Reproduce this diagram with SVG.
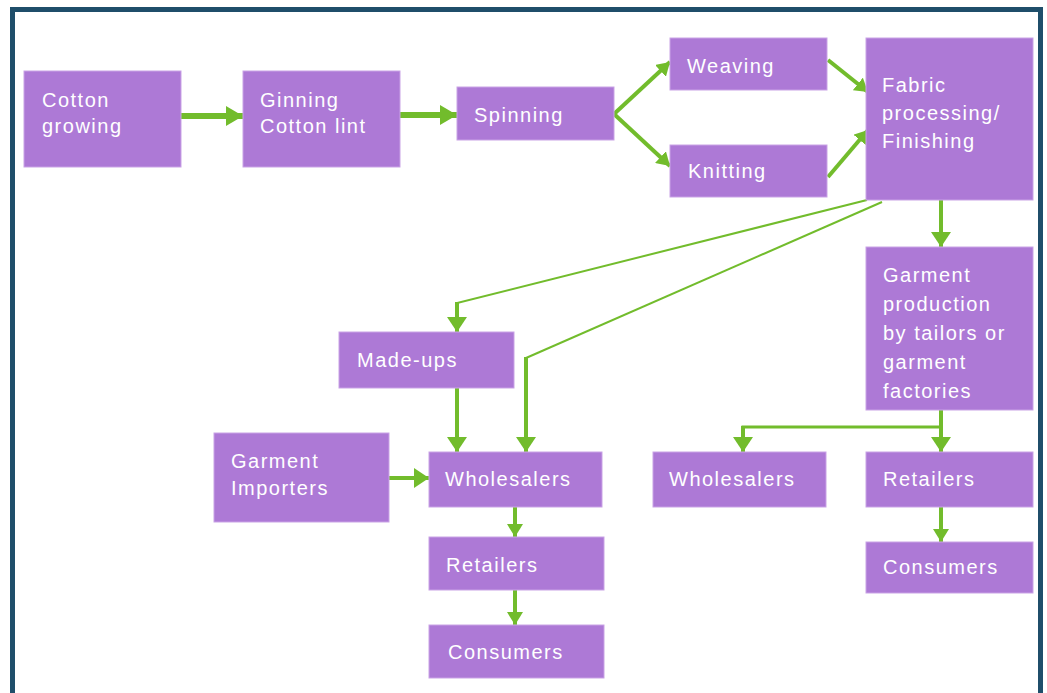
<svg xmlns="http://www.w3.org/2000/svg" width="1047" height="693" viewBox="0 0 1047 693">
<defs>
<style>
.box{fill:#ad79d6;stroke:#c9a3e6;stroke-width:1}
.t{font-family:"Liberation Sans",Arial,sans-serif;font-size:20px;fill:#ffffff;letter-spacing:1.5px}
.c{stroke:#72bc2c;fill:none}
.thick{stroke-width:6}
.med{stroke-width:4}
.thin{stroke-width:2}
</style>
<marker id="ahL" markerUnits="userSpaceOnUse" markerWidth="18" markerHeight="20" refX="17" refY="10" orient="auto">
<path d="M0,0 L17,10 L0,20 z" fill="#72bc2c"/>
</marker>
<marker id="ahM" markerUnits="userSpaceOnUse" markerWidth="16" markerHeight="20" refX="15" refY="10" orient="auto">
<path d="M0,0 L15,10 L0,20 z" fill="#72bc2c"/>
</marker>
<marker id="ahS" markerUnits="userSpaceOnUse" markerWidth="14" markerHeight="16" refX="13" refY="8" orient="auto">
<path d="M0,0 L13,8 L0,16 z" fill="#72bc2c"/>
</marker>
</defs>
<rect x="0" y="0" width="1047" height="693" fill="#ffffff"/>
<rect x="12.5" y="9.5" width="1028" height="700" fill="none" stroke="#1f4e6a" stroke-width="5"/>

<g id="connectors">
<line class="c thick" x1="181" y1="116" x2="243" y2="116" marker-end="url(#ahL)"/>
<line class="c thick" x1="400" y1="115" x2="457" y2="115" marker-end="url(#ahL)"/>
<line class="c med" x1="614" y1="114" x2="670" y2="62" marker-end="url(#ahS)"/>
<line class="c med" x1="614" y1="114" x2="670" y2="166" marker-end="url(#ahS)"/>
<line class="c med" x1="828" y1="60" x2="868" y2="92" marker-end="url(#ahS)"/>
<line class="c med" x1="828" y1="177" x2="868" y2="130" marker-end="url(#ahS)"/>
<line class="c med" x1="941" y1="200" x2="941" y2="247" marker-end="url(#ahM)"/>
<polyline class="c thin" points="867,200 457,303 457,306"/>
<line class="c med" x1="457" y1="302" x2="457" y2="332" marker-end="url(#ahM)"/>
<polyline class="c thin" points="882,202 526,358"/>
<line class="c med" x1="526" y1="357" x2="526" y2="452" marker-end="url(#ahM)"/>
<line class="c med" x1="457" y1="388" x2="457" y2="452" marker-end="url(#ahM)"/>
<line class="c med" x1="389" y1="478" x2="429" y2="478" marker-end="url(#ahM)"/>
<line class="c med" x1="515" y1="507" x2="515" y2="537" marker-end="url(#ahS)"/>
<line class="c med" x1="515" y1="590" x2="515" y2="625" marker-end="url(#ahS)"/>
<line class="c med" x1="941" y1="410" x2="941" y2="452" marker-end="url(#ahM)"/>
<polyline class="c" stroke-width="3" points="941,427 743,427 743,438"/>
<line class="c med" x1="743" y1="426" x2="743" y2="452" marker-end="url(#ahM)"/>
<line class="c med" x1="941" y1="507" x2="941" y2="542" marker-end="url(#ahS)"/>
</g>

<g id="cotton-growing">
<rect class="box" x="24" y="71" width="157" height="96"/>
<text class="t" x="42" y="107">Cotton</text>
<text class="t" x="42" y="133">growing</text>
</g>
<g id="ginning">
<rect class="box" x="243" y="71" width="157" height="96"/>
<text class="t" x="260" y="107">Ginning</text>
<text class="t" x="260" y="133">Cotton lint</text>
</g>
<g id="spinning">
<rect class="box" x="457" y="87" width="157" height="53"/>
<text class="t" x="474" y="122">Spinning</text>
</g>
<g id="weaving">
<rect class="box" x="670" y="38" width="157" height="52"/>
<text class="t" x="687" y="73">Weaving</text>
</g>
<g id="knitting">
<rect class="box" x="670" y="145" width="157" height="52"/>
<text class="t" x="688" y="178">Knitting</text>
</g>
<g id="fabric-processing">
<rect class="box" x="866" y="38" width="167" height="162"/>
<text class="t" x="882" y="92">Fabric</text>
<text class="t" x="882" y="120">processing/</text>
<text class="t" x="882" y="148">Finishing</text>
</g>
<g id="garment-production">
<rect class="box" x="866" y="247" width="167" height="163"/>
<text class="t" x="883" y="282">Garment</text>
<text class="t" x="883" y="311">production</text>
<text class="t" x="883" y="340">by tailors or</text>
<text class="t" x="883" y="369">garment</text>
<text class="t" x="883" y="398">factories</text>
</g>
<g id="made-ups">
<rect class="box" x="339" y="332" width="175" height="56"/>
<text class="t" x="357" y="367">Made-ups</text>
</g>
<g id="garment-importers">
<rect class="box" x="214" y="433" width="175" height="89"/>
<text class="t" x="231" y="468">Garment</text>
<text class="t" x="231" y="495">Importers</text>
</g>
<g id="wholesalers-left">
<rect class="box" x="429" y="452" width="173" height="55"/>
<text class="t" x="445" y="486">Wholesalers</text>
</g>
<g id="retailers-left">
<rect class="box" x="429" y="537" width="175" height="53"/>
<text class="t" x="446" y="572">Retailers</text>
</g>
<g id="consumers-left">
<rect class="box" x="429" y="625" width="175" height="53"/>
<text class="t" x="448" y="659">Consumers</text>
</g>
<g id="wholesalers-right">
<rect class="box" x="653" y="452" width="173" height="55"/>
<text class="t" x="669" y="486">Wholesalers</text>
</g>
<g id="retailers-right">
<rect class="box" x="866" y="452" width="167" height="55"/>
<text class="t" x="883" y="486">Retailers</text>
</g>
<g id="consumers-right">
<rect class="box" x="866" y="542" width="167" height="51"/>
<text class="t" x="883" y="574">Consumers</text>
</g>
</svg>
